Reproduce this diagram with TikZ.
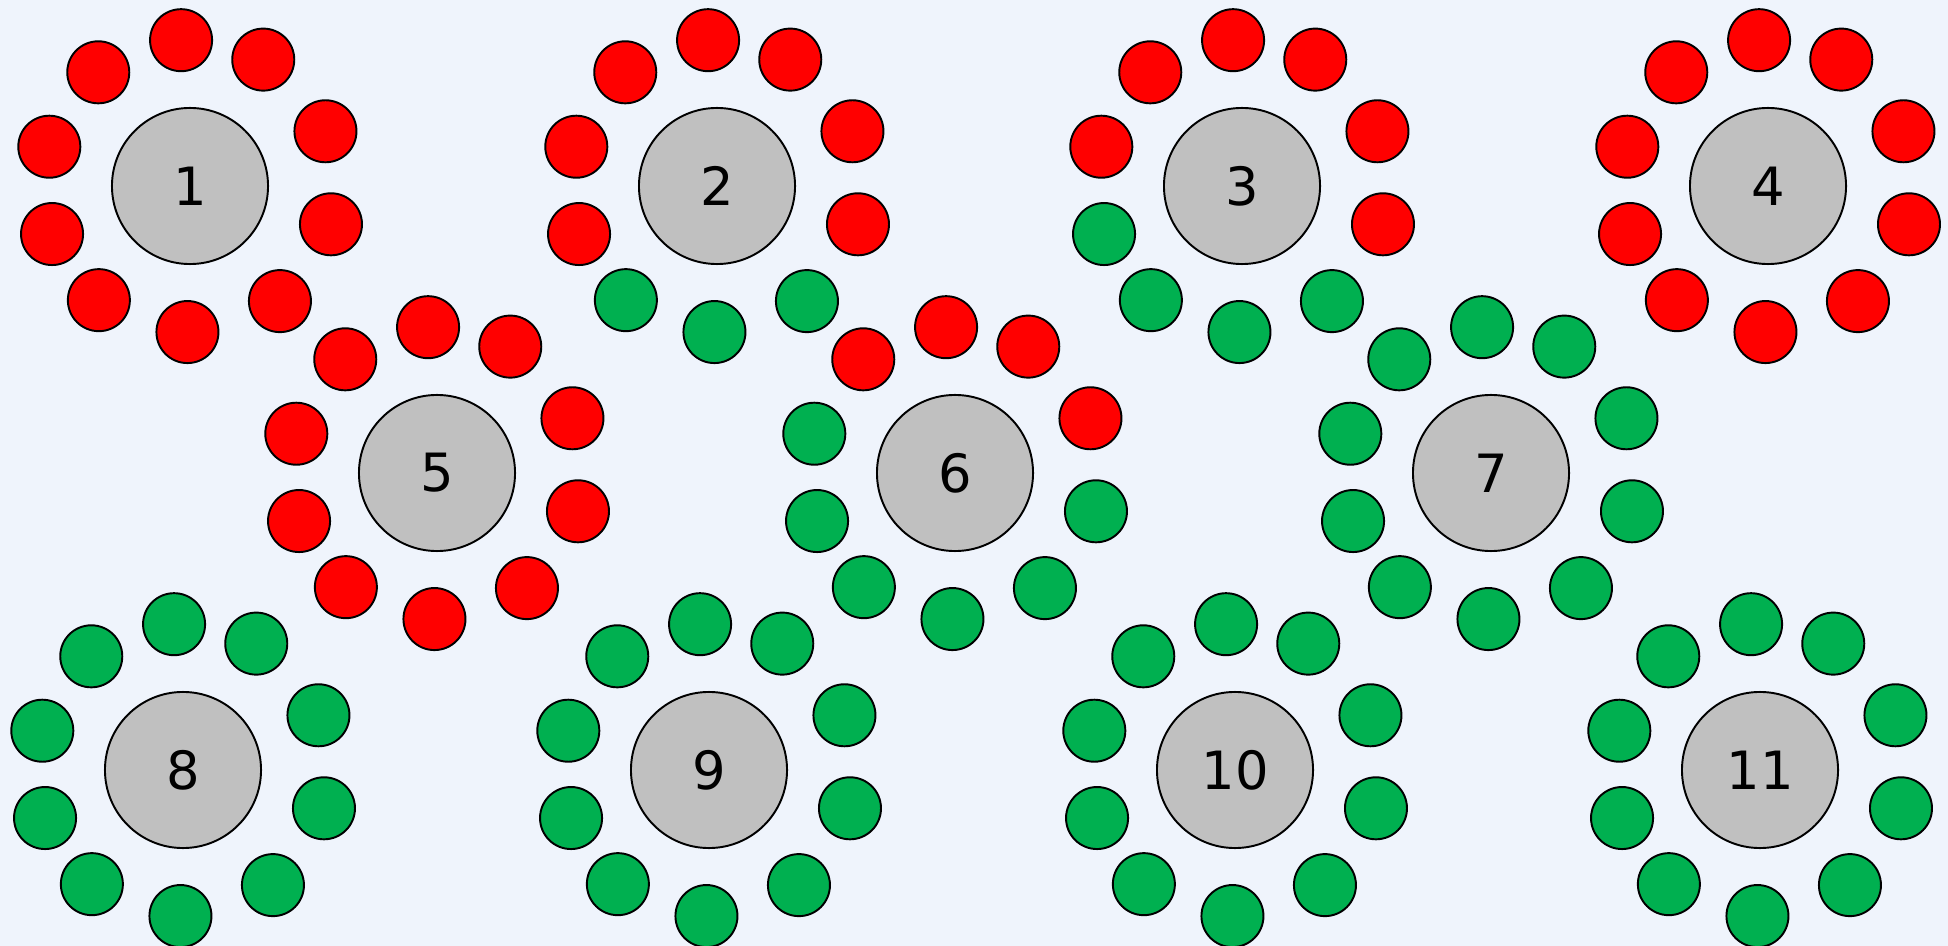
\documentclass[tikz,border=0pt]{standalone}
\usepackage{fontspec}
\setmainfont{DejaVu Sans}
\definecolor{PageBlue}{RGB}{239,244,252}
\definecolor{HubGray}{RGB}{192,192,192}
\definecolor{PortRed}{RGB}{255,0,0}
\definecolor{PortGreen}{RGB}{0,176,80}
\def\portangles{{93.5,59.9,22,-15.2,-52,-91,-128.6,-160.8,164.4,128.9}}

\begin{document}
\begin{tikzpicture}[x=0.01cm,y=-0.01cm,
    hub/.style={circle,draw=black,line width=0.55pt,fill=HubGray,minimum size=1.56cm,inner sep=0pt,font=\fontsize{15}{15}\selectfont},
    port/.style={circle,draw=black,line width=0.55pt,minimum size=0.62cm,inner sep=0pt},
    busy/.style={port,fill=PortRed},
    free/.style={port,fill=PortGreen}]
      \useasboundingbox (0,0) rectangle (1948,946);
      \fill[PageBlue] (0,0) rectangle (1948,946);

      \foreach \n/\x/\y in {1/190/186, 2/717/186, 3/1242/186, 4/1768/186,
          5/437/473, 6/955/473, 7/1491/473,
          8/183/770, 9/709/770, 10/1235/770, 11/1760/770}
        \node[hub] (hub\n) at (\x,\y) {\n};

      % ports from the top, clockwise
      \foreach \n/\cols in {
          1/{busy,busy,busy,busy,busy,busy,busy,busy,busy,busy},
          2/{busy,busy,busy,busy,free,free,free,busy,busy,busy},
          3/{busy,busy,busy,busy,free,free,free,free,busy,busy},
          4/{busy,busy,busy,busy,busy,busy,busy,busy,busy,busy},
          5/{busy,busy,busy,busy,busy,busy,busy,busy,busy,busy},
          6/{busy,busy,busy,free,free,free,free,free,free,busy},
          7/{free,free,free,free,free,free,free,free,free,free},
          8/{free,free,free,free,free,free,free,free,free,free},
          9/{free,free,free,free,free,free,free,free,free,free},
          10/{free,free,free,free,free,free,free,free,free,free},
          11/{free,free,free,free,free,free,free,free,free,free}}
        \foreach \s [count=\k from 0] in \cols {
          \pgfmathsetmacro\a{\portangles[\k]}
          \path (hub\n) ++(\a:1.46cm) node[\s] (hub\n-p\k) {};
        }
    \end{tikzpicture}
\end{document}
